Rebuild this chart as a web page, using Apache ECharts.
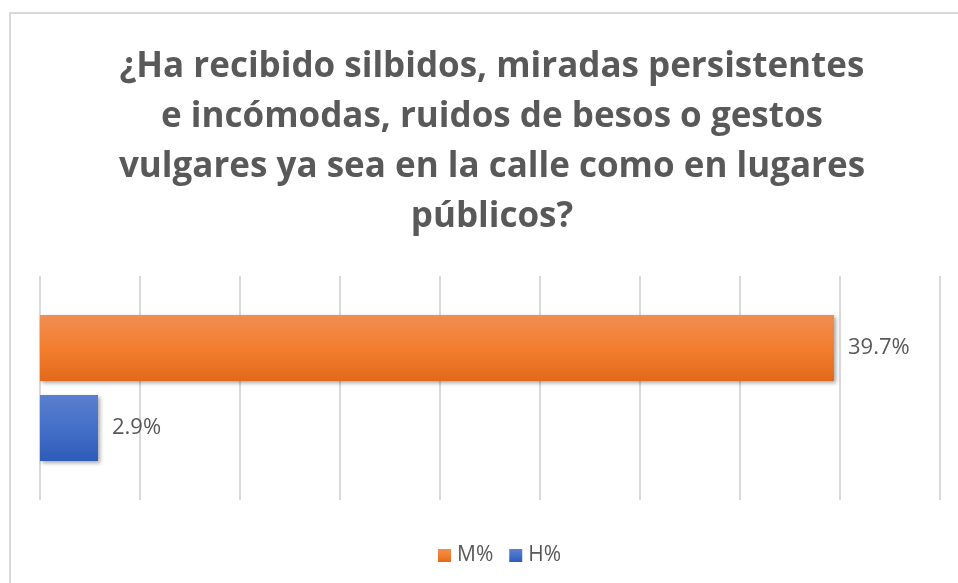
<!DOCTYPE html>
<html>
<head>
<meta charset="utf-8">
<script src="https://cdn.jsdelivr.net/npm/echarts@6/dist/echarts.min.js"></script>
<style>
  html, body { margin: 0; padding: 0; background: #fff; }
  #chart { width: 958px; height: 583px; }
</style>
</head>
<body>
<div id="chart"></div>
<script>
// Survey answer: share of women (M%) and men (H%) who said yes.
const titleLines = [
  "¿Ha recibido silbidos, miradas persistentes",
  "e incómodas, ruidos de besos o gestos",
  "vulgares ya sea en la calle como en lugares",
  "públicos?"
];
const categories = [""];
const seriesNames = ["M%", "H%"];
const mValues = [39.7];
const hValues = [2.9];
const xTicks = { min: 0, max: 45, interval: 5 };

const grad = (top, mid, bottom) => new echarts.graphic.LinearGradient(0, 0, 0, 1, [
  { offset: 0, color: top }, { offset: 0.5, color: mid }, { offset: 1, color: bottom }
]);

const chart = echarts.init(document.getElementById("chart"), null, { renderer: "canvas" });

const barStyle = (top, mid, bottom) => ({
  color: grad(top, mid, bottom),
  shadowColor: "rgba(0,0,0,0.35)",
  shadowBlur: 4,
  shadowOffsetX: 2,
  shadowOffsetY: 2,
});

const label = {
  show: true,
  position: "right",
  distance: 14,
  color: "#595959",
  fontSize: 22,
  fontFamily: "Open Sans",
  formatter: p => p.value.toFixed(1) + "%",
};

chart.setOption({
  backgroundColor: "#fff",
  animation: false,
  title: {
    text: titleLines.join("\n"),
    left: 487,
    textAlign: "center",
    top: 37,
    textStyle: { color: "#595959", fontSize: 35, fontWeight: "bold", fontFamily: "Open Sans", lineHeight: 50 },
  },
  graphic: [{
    type: "rect",
    shape: { x: 10, y: 13, width: 960, height: 580 },
    style: { fill: "none", stroke: "#d9d9d9", lineWidth: 2 },
    silent: true,
  }],
  legend: {
    data: seriesNames,
    top: 540,
    left: 433,
    itemWidth: 13,
    itemHeight: 13,
    itemGap: 16,
    icon: "rect",
    textStyle: { color: "#595959", fontSize: 21, fontFamily: "Open Sans", padding: [0, 0, 0, 1] },
  },
  grid: { left: 40, right: 18, top: 276, bottom: 83 },
  xAxis: {
    type: "value",
    min: xTicks.min, max: xTicks.max, interval: xTicks.interval,
    axisLabel: { show: false },
    axisLine: { show: false },
    axisTick: { show: false },
    splitLine: { show: true, lineStyle: { color: "#d9d9d9", width: 2 } },
  },
  yAxis: {
    type: "category",
    data: categories,
    inverse: true,
    axisLine: { show: false },
    axisTick: { show: false },
    axisLabel: { show: false },
  },
  series: [
    {
      name: seriesNames[0], type: "bar", data: mValues,
      barWidth: 66, barGap: "21%",
      itemStyle: barStyle("#F08D52", "#F37E2E", "#E2691B"),
      label,
    },
    {
      name: seriesNames[1], type: "bar", data: hValues,
      barWidth: 66, barGap: "21%",
      itemStyle: barStyle("#5A7FCF", "#4470C8", "#2F5BB9"),
      label,
    },
  ],
});
</script>
</body>
</html>
